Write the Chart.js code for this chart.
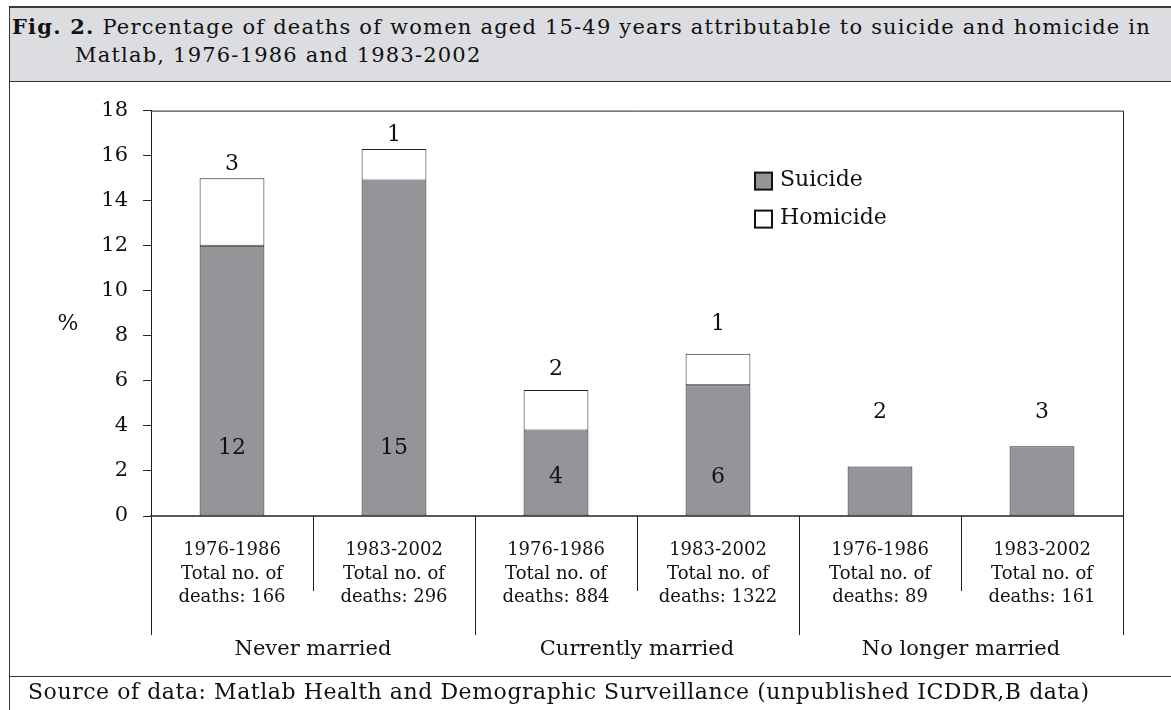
<!DOCTYPE html>
<html>
<head>
<meta charset="utf-8">
<script src="https://cdn.jsdelivr.net/npm/chart.js@4.4.0/dist/chart.umd.min.js"></script>
<style>
  body { margin: 0; background: #fff; font-family: "DejaVu Serif", serif; }
  #frame { position: absolute; left: 9px; top: 6px; width: 1200px; height: 720px;
           border-left: 1px solid #333; border-top: 2px solid #3a3a3a; }
  #title { position: absolute; left: 10px; top: 8px; width: 1161px; height: 74px;
           background: #dcdde0; border-bottom: 1px solid #333; box-sizing: border-box;
           padding: 5px 0 0 65px; text-indent: -63px; font-size: 21px; letter-spacing: 1.2px;
           line-height: 28px; color: #111; white-space: nowrap; }
  #chartBox { position: absolute; left: 10px; top: 83px; width: 1161px; height: 594px; }
  #footer { position: absolute; left: 10px; top: 676px; width: 1161px; height: 40px;
            border-top: 1px solid #333; padding-left: 18px; font-size: 22px; letter-spacing: 0.55px;
            line-height: 30px; color: #111; white-space: nowrap; }
</style>
</head>
<body>
<div id="frame"></div>
<div id="title"><b>Fig. 2.</b> Percentage of deaths of women aged 15-49 years attributable to suicide and homicide in<br>Matlab, 1976-1986 and 1983-2002</div>
<div id="chartBox"><canvas id="deathChart"></canvas></div>
<div id="footer">Source of data: Matlab Health and Demographic Surveillance (unpublished ICDDR,B data)</div>

<script>
// 数据
const periods = ['1976-1986', '1983-2002', '1976-1986', '1983-2002', '1976-1986', '1983-2002'];
const totalDeaths = [166, 296, 884, 1322, 89, 161];
const groups = ['Never married', 'Currently married', 'No longer married'];
const suicidePct = [12.0, 14.9, 3.8, 5.8, 2.2, 3.1];
const homicidePct = [3.0, 1.4, 1.8, 1.4, null, null];
const topCounts = ['3', '1', '2', '1', '2', '3'];
const insideCounts = ['12', '15', '4', '6', null, null];
const yTicks = [0, 2, 4, 6, 8, 10, 12, 14, 16, 18];

const FONT = '"DejaVu Serif", serif';

// 图表上的文字、分隔线和图例
const decorPlugin = {
    id: 'decor',
    afterDraw(chart, args, opts) {
        const { ctx, chartArea: a, scales: { x, y } } = chart;
        ctx.save();
        ctx.strokeStyle = '#222';
        ctx.lineWidth = 1;

        // 上边和右边的框线
        ctx.beginPath();
        ctx.moveTo(a.left, a.top + 0.5);
        ctx.lineTo(a.right + 0.5, a.top + 0.5);
        ctx.lineTo(a.right + 0.5, a.bottom + opts.majorDrop);
        ctx.moveTo(a.left + 0.5, a.bottom);
        ctx.lineTo(a.left + 0.5, a.bottom + opts.majorDrop);
        ctx.stroke();

        // 类别分隔线
        for (let i = 0; i < periods.length - 1; i++) {
            const px = Math.round((x.getPixelForValue(i) + x.getPixelForValue(i + 1)) / 2) + 0.5;
            const drop = (i % 2 === 1) ? opts.majorDrop : opts.minorDrop;
            ctx.beginPath();
            ctx.moveTo(px, a.bottom);
            ctx.lineTo(px, a.bottom + drop);
            ctx.stroke();
        }

        ctx.fillStyle = '#111';
        ctx.textAlign = 'center';
        ctx.textBaseline = 'middle';

        // 分组标签
        ctx.font = '21px ' + FONT;
        groups.forEach((g, k) => {
            const cx = (x.getPixelForValue(2 * k) + x.getPixelForValue(2 * k + 1)) / 2;
            ctx.fillText(g, cx, a.bottom + opts.groupOffset);
        });

        // 数值标签
        ctx.font = '22px ' + FONT;
        topCounts.forEach((t, i) => {
            ctx.fillText(t, x.getPixelForValue(i), y.getPixelForValue(opts.topAnchor[i]));
        });
        insideCounts.forEach((t, i) => {
            if (t === null) return;
            ctx.fillText(t, x.getPixelForValue(i), y.getPixelForValue(opts.insideAnchor[i]));
        });

        // 纵轴标题
        ctx.font = '22px ' + FONT;
        ctx.fillText('%', opts.yTitleX, (a.top + a.bottom) / 2 + 11);

        // 图例
        const ds = chart.data.datasets;
        ctx.textAlign = 'left';
        ctx.font = '22px ' + FONT;
        ds.forEach((d, k) => {
            const lx = a.left + opts.legendX;
            const ly = a.top + opts.legendY + k * 38;
            ctx.fillStyle = d.backgroundColor;
            ctx.fillRect(lx, ly, 17, 17);
            ctx.lineWidth = 2;
            ctx.strokeStyle = '#111';
            ctx.strokeRect(lx, ly, 17, 17);
            ctx.fillStyle = '#111';
            ctx.fillText(d.label, lx + 25, ly + 8);
        });
        ctx.restore();
    }
};

function initDeathChart() {
    const ctx = document.getElementById('deathChart');
    if (!ctx) return;

    new Chart(ctx, {
        type: 'bar',
        data: {
            labels: periods.map((p, i) => [p, 'Total no. of', 'deaths: ' + totalDeaths[i]]),
            datasets: [
                {
                    label: 'Suicide',
                    data: suicidePct,
                    backgroundColor: '#939598',
                    borderColor: '#222',
                    borderWidth: 1,
                    borderSkipped: false,
                    categoryPercentage: 1,
                    barPercentage: 0.4
                },
                {
                    label: 'Homicide',
                    data: homicidePct,
                    backgroundColor: '#ffffff',
                    borderColor: '#222',
                    borderWidth: 1,
                    borderSkipped: false,
                    categoryPercentage: 1,
                    barPercentage: 0.4
                }
            ]
        },
        options: {
            responsive: true,
            maintainAspectRatio: false,
            animation: false,
            layout: { padding: { top: 23, right: 48, left: 0, bottom: 0 } },
            plugins: {
                legend: { display: false },
                tooltip: { enabled: false },
                decor: {
                    majorDrop: 119,
                    minorDrop: 75,
                    groupOffset: 134,
                    yTitleX: 58,
                    legendX: 604,
                    legendY: 62,
                    topAnchor: [15.6, 16.9, 6.5, 8.5, 4.6, 4.6],
                    insideAnchor: [3.0, 3.0, 1.7, 1.7]
                }
            },
            scales: {
                x: {
                    stacked: true,
                    grid: { drawOnChartArea: false, drawTicks: false },
                    border: { color: '#5a5a5a', width: 2 },
                    ticks: {
                        color: '#111',
                        padding: 23,
                        maxRotation: 0,
                        font: { family: FONT, size: 18, lineHeight: 1.3 }
                    },
                    afterFit(scale) { scale.height = 161; }
                },
                y: {
                    stacked: true,
                    min: 0,
                    max: 18,
                    afterBuildTicks(scale) { scale.ticks = yTicks.map(v => ({ value: v })); },
                    grid: { drawOnChartArea: false, drawTicks: true, tickLength: 8, color: '#222' },
                    border: { color: '#222', width: 1 },
                    ticks: {
                        color: '#111',
                        padding: 15,
                        font: { family: FONT, size: 21 }
                    },
                    afterFit(scale) { scale.width = 141; }
                }
            }
        },
        plugins: [decorPlugin]
    });
}

initDeathChart();
</script>
</body>
</html>
